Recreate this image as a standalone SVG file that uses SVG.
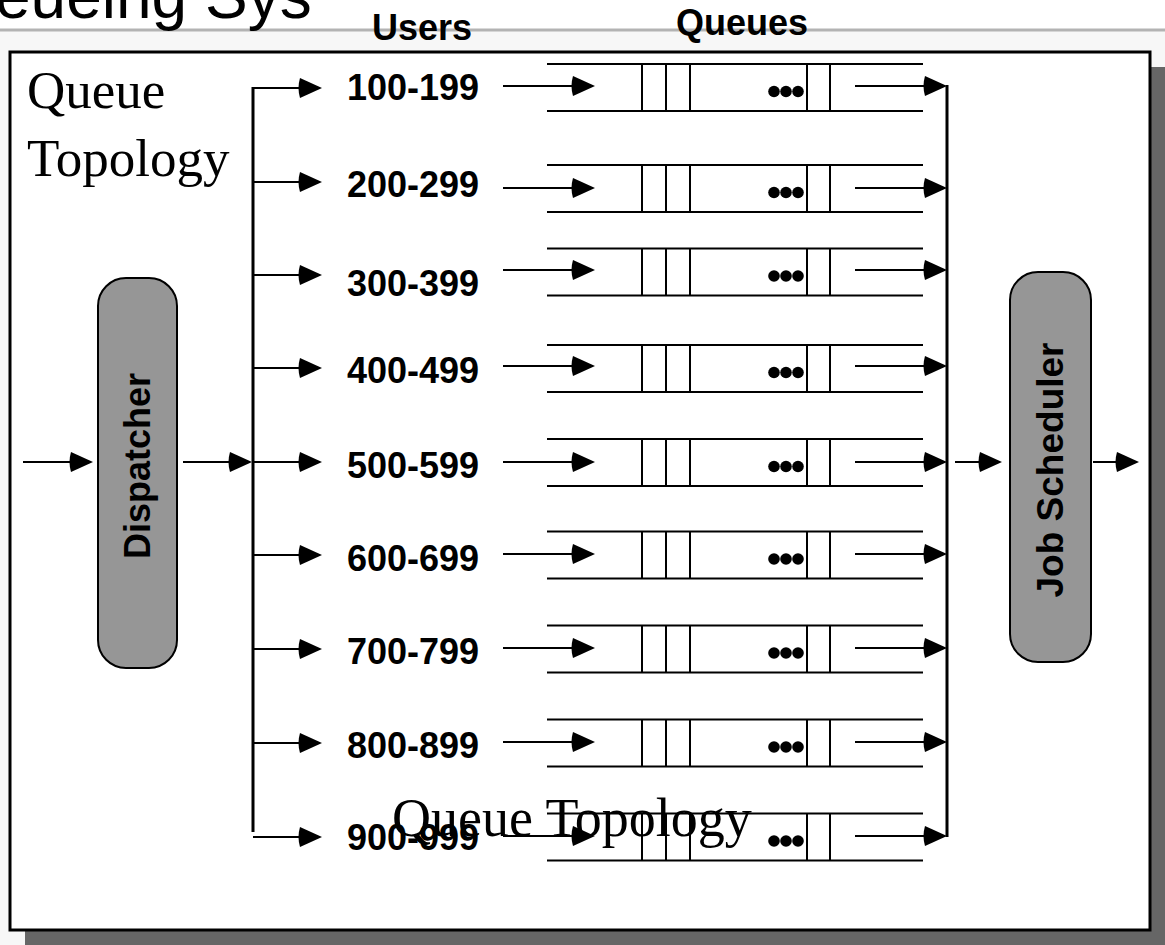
<svg xmlns="http://www.w3.org/2000/svg" width="1165" height="945" viewBox="0 0 1165 945">
  <style>
    .ln { stroke: #000; stroke-width: 3; fill: none; }
    .arr { stroke: #000; stroke-width: 2; fill: none; marker-end: url(#tip); }
    .rail { stroke: #000; stroke-width: 2; }
    .bar { stroke: #000; stroke-width: 2; }
    .dot { fill: #000; }
    .lbl { font-family: "Liberation Sans", Arial, sans-serif; font-weight: bold; font-size: 36px; fill: #000; }
    .serif { font-family: "Liberation Serif", "Times New Roman", serif; font-size: 53px; fill: #000; }
    .title { font-family: "Liberation Sans", Arial, sans-serif; font-size: 64px; fill: #000; }
    .proc { fill: #969696; stroke: #000; stroke-width: 2; }
  </style>
  <defs>
    <marker id="tip" viewBox="0 0 24 20" refX="22" refY="10" markerWidth="24" markerHeight="20" markerUnits="userSpaceOnUse" orient="auto">
      <path d="M2,0 L24,10 L2,20 Q-1,10 2,0 Z" fill="#000"/>
    </marker>
    <g id="queue">
      <line class="rail" x1="547" y1="-23.5" x2="923" y2="-23.5"/>
      <line class="rail" x1="547" y1="23.5" x2="923" y2="23.5"/>
      <line class="bar" x1="642" y1="-23.5" x2="642" y2="23.5"/>
      <line class="bar" x1="666" y1="-23.5" x2="666" y2="23.5"/>
      <line class="bar" x1="690" y1="-23.5" x2="690" y2="23.5"/>
      <line class="bar" x1="807" y1="-23.5" x2="807" y2="23.5"/>
      <line class="bar" x1="830" y1="-23.5" x2="830" y2="23.5"/>
      <circle class="dot" cx="774" cy="4" r="5.8"/>
      <circle class="dot" cx="786" cy="4" r="5.8"/>
      <circle class="dot" cx="798" cy="4" r="5.8"/>
    </g>
  </defs>

  <!-- page background -->
  <rect x="0" y="0" width="1165" height="945" fill="#f7f7f7"/>
  <rect x="0" y="0" width="1165" height="29" fill="#ffffff"/>
  <line x1="0" y1="30" x2="1165" y2="30" stroke="#b3b3b3" stroke-width="3"/>

  <!-- frame with drop shadow -->
  <rect x="25" y="67" width="1141" height="879" fill="#666666"/>
  <rect x="10" y="52" width="1140" height="878" fill="#ffffff" stroke="#000" stroke-width="3"/>

  <!-- headings -->
  <text class="title" x="-5" y="18">eueing Sys</text>
  <text class="lbl" x="372" y="40">Users</text>
  <text class="lbl" x="676" y="35">Queues</text>
  <text class="serif" x="27" y="108">Queue</text>
  <text class="serif" x="27" y="176">Topology</text>

  <!-- processing stages -->
  <g id="dispatcher">
    <rect class="proc" x="98" y="278" width="79" height="390" rx="28" ry="28"/>
    <text class="lbl" transform="translate(150,466) rotate(-90)" text-anchor="middle">Dispatcher</text>
  </g>
  <g id="job-scheduler">
    <rect class="proc" x="1010" y="272" width="81" height="390" rx="28" ry="28"/>
    <text class="lbl" transform="translate(1063,470) rotate(-90)" text-anchor="middle" style="font-size:37px">Job Scheduler</text>
  </g>

  <!-- user-range queues -->
  <g id="q100">
    <text class="lbl" x="347" y="100">100-199</text>
    <use href="#queue" transform="translate(0,87.5)"/>
  </g>
  <g id="q200">
    <text class="lbl" x="347" y="197">200-299</text>
    <use href="#queue" transform="translate(0,188.5)"/>
  </g>
  <g id="q300">
    <text class="lbl" x="347" y="296">300-399</text>
    <use href="#queue" transform="translate(0,272)"/>
  </g>
  <g id="q400">
    <text class="lbl" x="347" y="383">400-499</text>
    <use href="#queue" transform="translate(0,368.5)"/>
  </g>
  <g id="q500">
    <text class="lbl" x="347" y="478">500-599</text>
    <use href="#queue" transform="translate(0,462.5)"/>
  </g>
  <g id="q600">
    <text class="lbl" x="347" y="571">600-699</text>
    <use href="#queue" transform="translate(0,555)"/>
  </g>
  <g id="q700">
    <text class="lbl" x="347" y="664">700-799</text>
    <use href="#queue" transform="translate(0,649)"/>
  </g>
  <g id="q800">
    <text class="lbl" x="347" y="758">800-899</text>
    <use href="#queue" transform="translate(0,743)"/>
  </g>
  <g id="q900">
    <text class="lbl" x="347" y="850">900-999</text>
    <use href="#queue" transform="translate(0,837)"/>
  </g>

  <!-- connectors -->
  <g id="connectors">
    <line class="arr" x1="23" y1="462" x2="91" y2="462"/>
    <line class="arr" x1="183" y1="462" x2="250" y2="462"/>
    <line class="ln" x1="253" y1="87" x2="253" y2="832"/>
    <!-- fan-out to ranges -->
    <line class="arr" x1="252" y1="88" x2="320" y2="88"/>
    <line class="arr" x1="253" y1="182" x2="320" y2="182"/>
    <line class="arr" x1="253" y1="275" x2="320" y2="275"/>
    <line class="arr" x1="253" y1="368" x2="320" y2="368"/>
    <line class="arr" x1="253" y1="462" x2="320" y2="462"/>
    <line class="arr" x1="253" y1="555" x2="320" y2="555"/>
    <line class="arr" x1="253" y1="649" x2="320" y2="649"/>
    <line class="arr" x1="253" y1="743" x2="320" y2="743"/>
    <line class="arr" x1="253" y1="837" x2="320" y2="837"/>
    <!-- into queues -->
    <line class="arr" x1="503" y1="86" x2="593" y2="86"/>
    <line class="arr" x1="503" y1="188" x2="593" y2="188"/>
    <line class="arr" x1="503" y1="270" x2="593" y2="270"/>
    <line class="arr" x1="503" y1="366" x2="593" y2="366"/>
    <line class="arr" x1="503" y1="462" x2="593" y2="462"/>
    <line class="arr" x1="503" y1="554" x2="593" y2="554"/>
    <line class="arr" x1="503" y1="648" x2="593" y2="648"/>
    <line class="arr" x1="503" y1="742" x2="593" y2="742"/>
    <line class="arr" x1="503" y1="836" x2="593" y2="836"/>
    <!-- out of queues -->
    <line class="arr" x1="855" y1="86" x2="945" y2="86"/>
    <line class="arr" x1="855" y1="188" x2="945" y2="188"/>
    <line class="arr" x1="855" y1="270" x2="945" y2="270"/>
    <line class="arr" x1="855" y1="366" x2="945" y2="366"/>
    <line class="arr" x1="855" y1="462" x2="945" y2="462"/>
    <line class="arr" x1="855" y1="554" x2="945" y2="554"/>
    <line class="arr" x1="855" y1="648" x2="945" y2="648"/>
    <line class="arr" x1="855" y1="742" x2="945" y2="742"/>
    <line class="arr" x1="855" y1="836" x2="945" y2="836"/>
    <line class="ln" x1="947" y1="85" x2="947" y2="837"/>
    <line class="arr" x1="955" y1="462" x2="1000" y2="462"/>
    <line class="arr" x1="1093" y1="462" x2="1137" y2="462"/>
  </g>

  <text class="serif" x="392" y="836" style="font-size:54px">Queue Topology</text>
</svg>
